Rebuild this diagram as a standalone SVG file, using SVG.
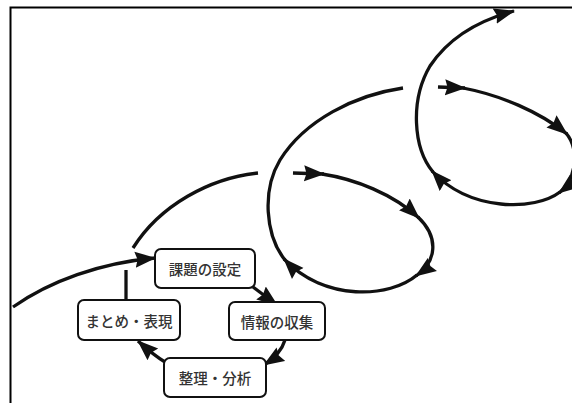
<svg xmlns="http://www.w3.org/2000/svg" width="572" height="403" viewBox="0 0 572 403">
  <defs>
    <marker id="ah" markerUnits="userSpaceOnUse" markerWidth="22" markerHeight="18" refX="20" refY="9" orient="auto" viewBox="0 0 22 18">
      <path d="M0,1 L21,9 L0,17 L2.5,9 z" fill="#111"/>
    </marker>
    <style>
      .c { fill: none; stroke: #111; stroke-width: 3.3; stroke-linecap: butt; }
      .a { marker-end: url(#ah); }
      .box { fill: #fff; stroke: #111; stroke-width: 2; }
      .t { font-family: "Noto Sans CJK JP", "Noto Sans", sans-serif; font-size: 14.5px; font-weight: 500; fill: #333; text-anchor: middle; dominant-baseline: central; }
      .frame { fill: none; stroke: #000; stroke-width: 2; }
    </style>
  </defs>
  <rect width="572" height="403" fill="#fff"/>
  <path class="frame" d="M10.5 404 L10.5 7.5 L573 7.5"/>

  <g id="connectors">
    <!-- incoming -->
    <path class="c a" d="M13 307 C50 281, 100 263, 155 258"/>
    <!-- small cycle -->
    <path class="c a" d="M253 287 L277 305"/>
    <path class="c a" d="M285 340 C282 350, 275 358, 264 365"/>
    <path class="c a" d="M165 362 C155 356, 148 350, 138 341"/>
    <path class="c" d="M126 300 L126 270"/>
    <!-- lower arc -->
    <path class="c" d="M133 248 C160 205, 210 178, 258 173"/>
    <!-- middle loop -->
    <path class="c a" d="M293 173 L324 174"/>
    <path class="c a" d="M322 174 C355 179, 393 194, 419 218"/>
    <path class="c a" d="M418 217 C440 238, 436 262, 416 276"/>
    <path class="c a" d="M417 275 C390 298, 325 302, 284 259"/>
    <path class="c" d="M285 260 C265 235, 262 190, 280 160 C305 120, 355 95, 403 88"/>
    <!-- upper loop -->
    <path class="c a" d="M438 87 L465 88"/>
    <path class="c a" d="M463 88 C500 95, 540 112, 567 134"/>
    <path class="c a" d="M566 133 C580 150, 576 180, 559 193"/>
    <path class="c a" d="M560 192 C535 211, 470 212, 432 171"/>
    <path class="c a" d="M433 172 C413 148, 410 100, 430 66 C450 36, 480 20, 514 11"/>
  </g>

  <g id="node-kadai">
    <rect class="box" x="155" y="249" width="100" height="39" rx="6"/>
    <text class="t" x="205" y="268.5">課題の設定</text>
  </g>
  <g id="node-joho">
    <rect class="box" x="229" y="302" width="96" height="38" rx="6"/>
    <text class="t" x="277" y="321">情報の収集</text>
  </g>
  <g id="node-seiri">
    <rect class="box" x="164" y="358" width="102" height="39" rx="6"/>
    <text class="t" x="215" y="377.5">整理・分析</text>
  </g>
  <g id="node-matome">
    <rect class="box" x="78" y="300" width="102" height="40" rx="6"/>
    <text class="t" x="129" y="320">まとめ・表現</text>
  </g>
</svg>
